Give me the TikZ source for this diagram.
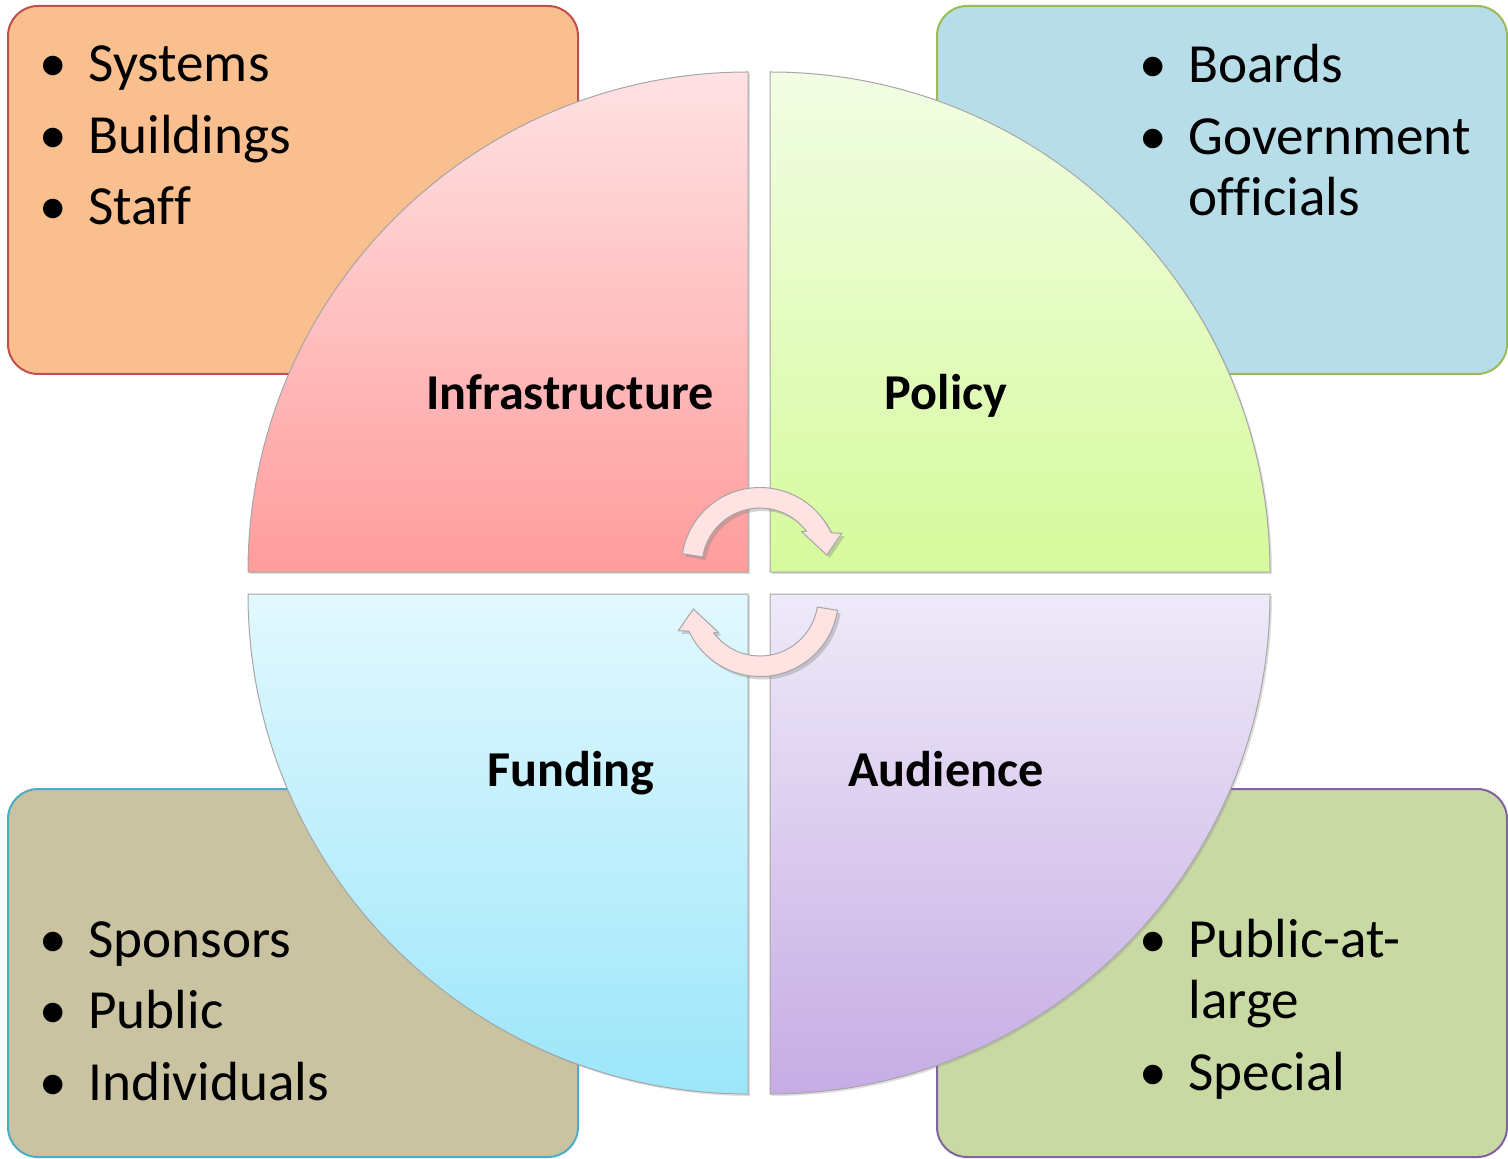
\documentclass[tikz,border=0pt]{standalone}
\usepackage{fontspec}
\setmainfont{Carlito}[Ligatures=NoCommon]
\usetikzlibrary{shadows}

\definecolor{orangefill}{HTML}{F9BF8F}
\definecolor{orangeline}{HTML}{C0504D}
\definecolor{bluefill}{HTML}{B7DDE8}
\definecolor{blueline}{HTML}{9BBB59}
\definecolor{tanfill}{HTML}{C9C3A1}
\definecolor{tanline}{HTML}{4BACC6}
\definecolor{greenfill}{HTML}{C9D9A4}
\definecolor{greenline}{HTML}{8064A2}
\definecolor{redtop}{HTML}{FFE2E4}
\definecolor{redbottom}{HTML}{FF9C9C}
\definecolor{limetop}{HTML}{F2FDE4}
\definecolor{limebottom}{HTML}{D6FA9C}
\definecolor{cyantop}{HTML}{E2F8FE}
\definecolor{cyanbottom}{HTML}{9CE6FA}
\definecolor{lilactop}{HTML}{EEEAF8}
\definecolor{lilacbottom}{HTML}{C6ACE4}
\definecolor{arrowpink}{HTML}{FFE3E3}

\newcommand{\bul}{\makebox[17.5pt][l]{\makebox[0pt]{\textbullet}}}

\begin{document}
\begin{tikzpicture}
[x=0.5pt, y=0.5pt, every node/.style={inner sep=0pt},
 cornerbox/.style={rectangle, rounded corners=15pt, minimum width=285pt, minimum height=184pt, line width=1pt},
 itemlist/.style={anchor=base west, font=\fontsize{27.6}{30.75}\selectfont},
 quarter/.style={draw=gray!70, line width=0.5pt, drop shadow={shadow xshift=1pt, shadow yshift=-1pt, opacity=0.25}},
 quarterlabel/.style={anchor=base, font=\fontsize{25.1}{29}\selectfont\bfseries},
 turnarrow/.style={fill=arrowpink, draw=gray!70, line width=0.5pt, drop shadow={shadow xshift=1.5pt, shadow yshift=-1.5pt, opacity=0.35}}]
\useasboundingbox (0,0) rectangle (1508,1158);
% corner boxes
\node (1) [cornerbox, fill=orangefill, draw=orangeline] at (293, 968) {};
\node (2) [cornerbox, fill=bluefill, draw=blueline] at (1222, 968) {};
\node (3) [cornerbox, fill=tanfill, draw=tanline] at (293, 185) {};
\node (4) [cornerbox, fill=greenfill, draw=greenline] at (1222, 185) {};
\node (5) [itemlist] at (53, 1076) {\begin{tabular}[t]{@{}l@{}l@{}}
\bul & Systems\\[5pt]
\bul & Buildings\\[5pt]
\bul & Staff
\end{tabular}};
\node (6) [itemlist] at (1153, 1075) {\begin{tabular}[t]{@{}l@{}l@{}}
\bul & Boards\\[5pt]
\bul & Government\\
     & officials
\end{tabular}};
\node (7) [itemlist] at (53, 201) {\begin{tabular}[t]{@{}l@{}l@{}}
\bul & Sponsors\\[5pt]
\bul & Public\\[5pt]
\bul & Individuals
\end{tabular}};
\node (8) [itemlist] at (1153, 201) {\begin{tabular}[t]{@{}l@{}l@{}}
\bul & Public-at-\\
     & large\\[5pt]
\bul & Special
\end{tabular}};
% quarters of the circle
\path [quarter, top color=redtop, bottom color=redbottom] (748, 586) -- (248, 586) arc[start angle=180, end angle=90, radius=250pt] -- cycle;
\path [quarter, top color=limetop, bottom color=limebottom] (770, 586) -- (770, 1086) arc[start angle=90, end angle=0, radius=250pt] -- cycle;
\path [quarter, top color=cyantop, bottom color=cyanbottom] (748, 564) -- (748, 64) arc[start angle=270, end angle=180, radius=250pt] -- cycle;
\path [quarter, top color=lilactop, bottom color=lilacbottom] (770, 564) -- (1270, 564) arc[start angle=0, end angle=-90, radius=250pt] -- cycle;
\node (9) [quarterlabel] at (570, 748) {Infrastructure};
\node (10) [quarterlabel] at (946, 748) {Policy};
\node (11) [quarterlabel] at (571, 372) {Funding};
\node (12) [quarterlabel] at (946, 372) {Audience};
% turning arrows
\draw [turnarrow, shift={(760, 592)}] (171:39.25pt) arc[start angle=171, end angle=25, radius=39.25pt] -- (81.7, 32.7) -- (66.7, 11) -- (41.7, 34.3) -- (37:29pt) arc[start angle=37, end angle=171, radius=29pt] -- cycle;
\draw [turnarrow, shift={(760, 560)}, rotate=180] (171:39.25pt) arc[start angle=171, end angle=25, radius=39.25pt] -- (81.7, 32.7) -- (66.7, 11) -- (41.7, 34.3) -- (37:29pt) arc[start angle=37, end angle=171, radius=29pt] -- cycle;
\end{tikzpicture}
\end{document}
